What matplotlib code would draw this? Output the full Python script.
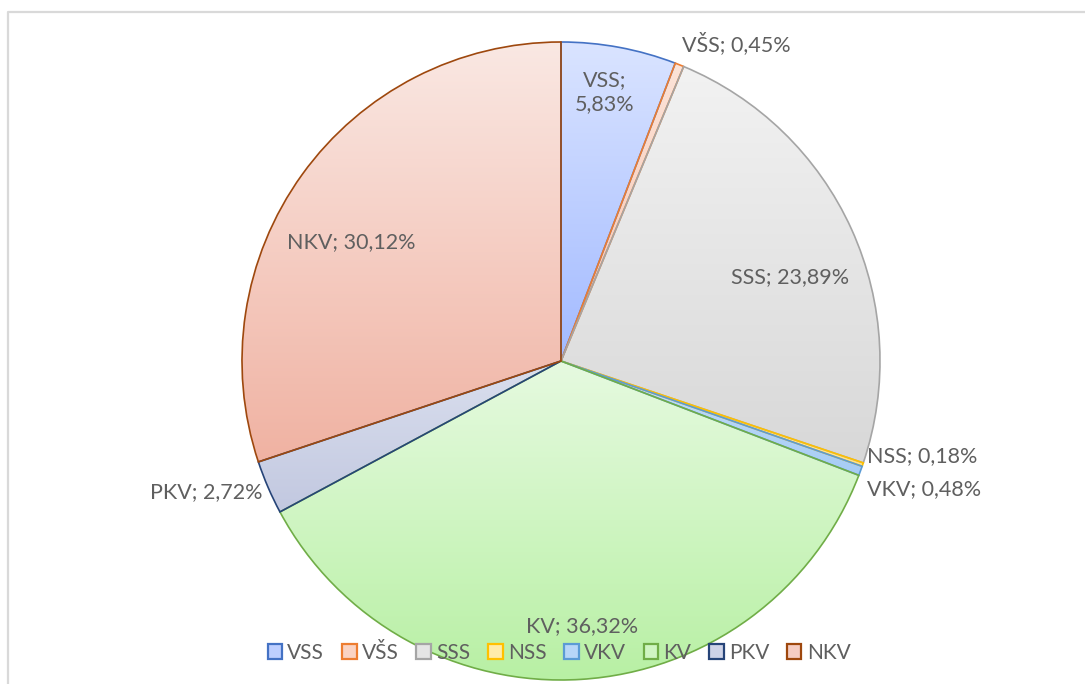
#!/usr/bin/env python
import numpy as np
import matplotlib
matplotlib.use("Agg")
import matplotlib.pyplot as plt
from matplotlib.patches import Patch
from matplotlib.lines import Line2D
from matplotlib.colors import to_rgb

# data
names = ["VSS", "VŠS", "SSS", "NSS", "VKV", "KV", "PKV", "NKV"]
shares = [5.83, 0.45, 23.89, 0.18, 0.48, 36.32, 2.72, 30.12]
label_texts = ["VSS;\n5,83%", "VŠS; 0,45%", "SSS; 23,89%", "NSS; 0,18%",
               "VKV; 0,48%", "KV; 36,32%", "PKV; 2,72%", "NKV; 30,12%"]

# styles
edge_colors = ["#4472C4", "#ED7D31", "#A5A5A5", "#FFC000",
               "#5B9BD5", "#70AD47", "#264478", "#9E480E"]
grad_top = ["#DAE4FF", "#FCE3D8", "#F2F2F2", "#FFF3C8",
            "#C8E0FA", "#E6FAE0", "#DADFEE", "#FAE8E3"]
grad_bottom = ["#A2BAFF", "#F8C4AE", "#D8D8D8", "#FFE28A",
               "#A6CCF5", "#B8F0A4", "#C2C8E0", "#F0B2A2"]

W, H = 1085, 684
text_color = "#5f5f5f"
plt.rcParams["font.family"] = ["Lato", "DejaVu Sans"]

fig = plt.figure(figsize=(W / 100, H / 100), dpi=100)
ax = fig.add_axes([0, 0, 1, 1])

cx, cy, r = 561, H - 361, 319
wedges, _ = ax.pie(shares, center=(cx, cy), radius=r, startangle=90,
                   counterclock=False, frame=True,
                   wedgeprops=dict(linewidth=1.2))

for w, ec, top, bot in zip(wedges, edge_colors, grad_top, grad_bottom):
    w.set_facecolor("none")
    w.set_edgecolor(ec)
    w.set_zorder(3)
    bb = w.get_path().get_extents()
    t = np.linspace(0, 1, 256)[:, None]
    img = (1 - t) * np.array(to_rgb(top)) + t * np.array(to_rgb(bot))
    im = ax.imshow(img[:, None, :], extent=(bb.x0, bb.x1, bb.y0, bb.y1),
                   origin="upper", aspect="auto", zorder=2, interpolation="bilinear")
    im.set_clip_path(w)

# label positions in pixel coords (x, y from top), horizontal alignment
label_pos = {
    "VSS": (605, 92, "center"),
    "VŠS": (682, 44, "left"),
    "SSS": (790, 277, "center"),
    "NSS": (867, 456, "left"),
    "VKV": (867, 489, "left"),
    "KV": (582, 626, "center"),
    "PKV": (262, 492, "right"),
    "NKV": (351, 242, "center"),
}
for n, lab in zip(names, label_texts):
    x, y, ha = label_pos[n]
    ax.text(x, H - y, lab, ha=ha, va="center", fontsize=15.5, color=text_color,
            zorder=5, linespacing=1.3)

ax.set_xlim(0, W)
ax.set_ylim(0, H)
ax.set_aspect("equal")
ax.axis("off")

# chart border
fig.add_artist(Line2D([8 / W, 8 / W, 1], [0, 1 - 12 / H, 1 - 12 / H],
                      transform=fig.transFigure, color="#D9D9D9", linewidth=1.6))

handles = [Patch(facecolor=(np.array(to_rgb(a)) + np.array(to_rgb(b))) / 2,
                 edgecolor=ec, linewidth=1.6)
           for a, b, ec in zip(grad_top, grad_bottom, edge_colors)]
leg = fig.legend(handles, names, loc="center", ncol=8,
                 bbox_to_anchor=(559 / W, 1 - 653 / H), frameon=False,
                 fontsize=15, handlelength=0.7, handleheight=0.7,
                 handletextpad=0.25, columnspacing=0.85, labelcolor=text_color)
leg.set_zorder(10)

fig.savefig("out.png", dpi=100)
